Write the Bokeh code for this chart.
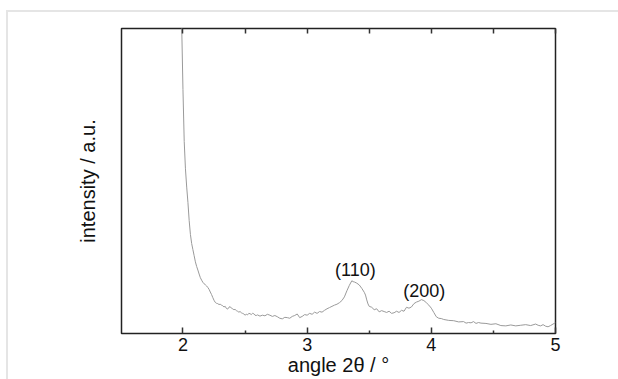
from bokeh.plotting import figure
from bokeh.models import FixedTicker, LinearAxis, Range1d, ColumnDataSource, CustomJSTickFormatter
from bokeh.core.properties import value
from bokeh.embed import file_html
from bokeh.resources import INLINE

# ---- data ----
angle = [1.98, 1.99, 2.00, 2.01, 2.02, 2.03, 2.04, 2.05, 2.06, 2.07, 2.08, 2.09, 2.10,
         2.11, 2.12, 2.13, 2.14, 2.15, 2.16, 2.17, 2.18, 2.19, 2.20, 2.21, 2.22, 2.23,
         2.24, 2.25, 2.26, 2.27, 2.28, 2.29, 2.30, 2.31, 2.32, 2.33, 2.34, 2.35, 2.36,
         2.37, 2.38, 2.39, 2.40, 2.41, 2.42, 2.43, 2.44, 2.45, 2.46, 2.47, 2.48, 2.49,
         2.50, 2.51, 2.52, 2.53, 2.54, 2.55, 2.56, 2.57, 2.58, 2.59, 2.60, 2.62, 2.64,
         2.66, 2.68, 2.70, 2.72, 2.74, 2.76, 2.78, 2.80, 2.82, 2.84, 2.86, 2.88, 2.90,
         2.92, 2.94, 2.96, 2.98, 3.00, 3.02, 3.04, 3.06, 3.08, 3.10, 3.12, 3.14, 3.16,
         3.18, 3.20, 3.22, 3.24, 3.26, 3.28, 3.30, 3.32, 3.34, 3.36, 3.37, 3.38, 3.40,
         3.42, 3.44, 3.46, 3.47, 3.48, 3.49, 3.50, 3.52, 3.54, 3.56, 3.58, 3.60, 3.62,
         3.64, 3.66, 3.68, 3.70, 3.72, 3.74, 3.76, 3.78, 3.80, 3.82, 3.84, 3.86, 3.88,
         3.90, 3.92, 3.94, 3.96, 3.98, 4.00, 4.02, 4.04, 4.06, 4.08, 4.10, 4.14, 4.18,
         4.22, 4.26, 4.28, 4.30, 4.32, 4.34, 4.36, 4.38, 4.40, 4.44, 4.48, 4.52, 4.56,
         4.60, 4.64, 4.68, 4.72, 4.76, 4.80, 4.84, 4.86, 4.88, 4.90, 4.92, 4.94, 4.96,
         4.98, 5.00]
intensity = [140.0, 100.5, 80.0, 63.0, 54.0, 48.0, 43.0, 37.0, 32.5, 29.5, 27.5, 25.5, 23.5,
             22.0, 20.8, 19.5, 18.3, 17.5, 16.8, 16.3, 16.0, 15.6, 15.1, 14.5, 13.6, 12.8,
             11.8, 10.9, 10.2, 9.9, 9.8, 9.5, 9.6, 9.3, 9.1, 8.7, 8.9, 8.2, 8.0,
             8.6, 8.8, 8.3, 8.1, 7.8, 7.9, 7.5, 7.3, 7.0, 7.2, 6.8, 6.6, 6.4,
             6.0, 6.3, 6.1, 6.6, 6.5, 6.2, 6.6, 6.5, 6.0, 5.9, 6.1, 5.7, 6.0,
             5.8, 6.3, 6.0, 5.6, 5.9, 5.5, 5.0, 4.8, 5.3, 5.2, 5.0, 5.6, 5.9,
             6.4, 5.2, 5.6, 6.2, 6.0, 6.6, 6.3, 7.0, 6.6, 7.2, 7.0, 7.6, 8.1,
             8.5, 8.9, 9.3, 9.6, 10.1, 10.8, 12.0, 14.0, 15.8, 17.3, 17.0, 16.9, 16.5,
             15.9, 14.8, 13.5, 12.6, 11.0, 9.7, 8.9, 8.6, 7.8, 8.1, 7.1, 7.5, 7.2,
             6.9, 7.3, 6.6, 6.8, 7.3, 6.9, 7.6, 7.3, 8.6, 8.3, 8.7, 9.8, 10.3,
             10.6, 11.1, 10.8, 10.1, 9.3, 8.3, 6.9, 5.5, 5.0, 4.9, 4.6, 4.3, 4.2,
             3.8, 3.9, 3.4, 3.6, 3.5, 3.9, 3.3, 3.6, 3.4, 3.3, 3.0, 3.2, 2.6,
             2.5, 2.8, 2.5, 2.7, 2.9, 2.6, 3.1, 2.7, 2.5, 2.9, 2.4, 2.2, 2.6,
             3.1, 3.5]
peak_labels = ["(110)", "(200)"]
peak_x = [3.388, 3.943]
peak_y = [20.9, 14.0]
x_ticks = [2, 3, 4, 5]
x_minor_ticks = [2.5, 3.5, 4.5]
top_ticks = [2, 2.5, 3, 3.5, 4, 4.5, 5]
x_label = "angle 2\u03b8 / \u00b0"
y_label = "intensity / a.u."

FONT = "Liberation Sans"
W, H = 618, 379

p = figure(width=W, height=H, output_backend="svg", toolbar_location=None,
           x_range=Range1d(1.505, 5.0), y_range=Range1d(0, 100),
           min_border_left=121, min_border_right=63, min_border_top=28,
           min_border_bottom=46)
# light-grey L-shaped frame of the original image (top and left edges)
p.styles = {
    "background-image": "linear-gradient(#e5e5e5, #e5e5e5), linear-gradient(#e5e5e5, #e5e5e5)",
    "background-size": "612px 2px, 2px 369px",
    "background-position": "6px 10px, 6px 10px",
    "background-repeat": "no-repeat",
}
p.grid.visible = False
p.background_fill_color = "white"
p.border_fill_color = None
p.outline_line_color = "#222222"
p.outline_line_width = 1.5
p.outline_line_alpha = 1.0

blank = CustomJSTickFormatter(code="return ''")

# bottom axis
xa = p.xaxis[0]
xa.ticker = FixedTicker(ticks=x_ticks, minor_ticks=x_minor_ticks)
xa.axis_line_color = None
xa.major_tick_in = 6
xa.major_tick_out = 0
xa.minor_tick_in = 3
xa.minor_tick_out = 0
xa.major_tick_line_color = "#333333"
xa.minor_tick_line_color = "#333333"
xa.major_tick_line_width = 1.5
xa.minor_tick_line_width = 1.5
xa.major_label_text_font = FONT
xa.major_label_text_font_size = "18px"
xa.major_label_text_color = "#111111"
xa.major_label_standoff = 4
xa.axis_label = x_label
xa.axis_label_standoff = 0
xa.axis_label_text_font = FONT
xa.axis_label_text_font_size = "20px"
xa.axis_label_text_font_style = "normal"
xa.axis_label_text_color = "#111111"

# top axis (ticks only)
ta = LinearAxis(ticker=FixedTicker(ticks=top_ticks, minor_ticks=[]), formatter=blank)
ta.axis_line_color = None
ta.major_tick_in = 5
ta.major_tick_out = 0
ta.minor_tick_in = 0
ta.minor_tick_out = 0
ta.major_tick_line_color = "#333333"
ta.major_tick_line_width = 1.5
ta.major_label_standoff = 0
ta.major_label_text_font_size = "8px"
p.add_layout(ta, "above")

# left axis (no ticks)
ya = p.yaxis[0]
ya.formatter = blank
ya.axis_line_color = None
ya.major_tick_in = 0
ya.major_tick_out = 0
ya.minor_tick_in = 0
ya.minor_tick_out = 0
ya.major_label_standoff = 0
ya.axis_label = y_label
ya.axis_label_standoff = 23
ya.axis_label_text_font = FONT
ya.axis_label_text_font_size = "20px"
ya.axis_label_text_font_style = "normal"
ya.axis_label_text_color = "#111111"

p.line(angle, intensity, line_color="#9a9a9a", line_width=1)

src = ColumnDataSource(dict(x=peak_x, y=peak_y, t=peak_labels))
p.text(x="x", y="y", text="t", source=src, text_align="center", text_baseline="middle",
       text_font=value(FONT), text_font_size="18px", text_color="#111111")

open("out.html", "w").write(file_html(p, INLINE))
